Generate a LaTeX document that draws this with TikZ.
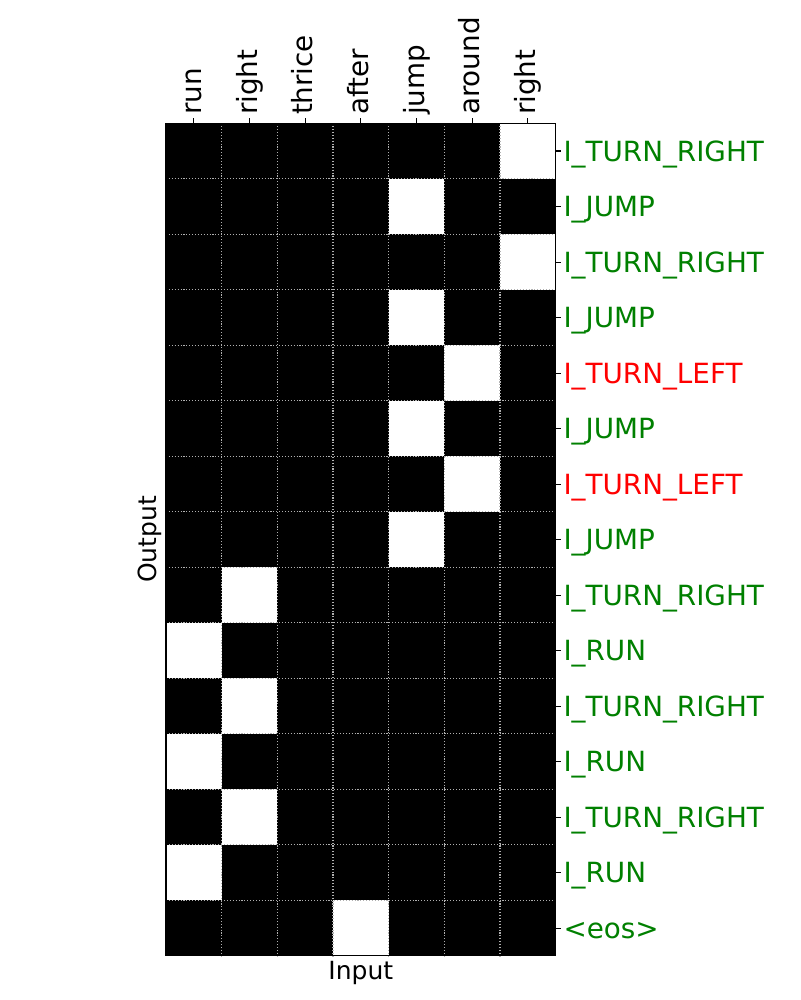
\documentclass[tikz,border=0pt]{standalone}
\usepackage{fontspec}
\setmainfont{DejaVu Sans}
\definecolor{mplgreen}{RGB}{0,128,0}
\definecolor{mplred}{RGB}{255,0,0}
\definecolor{gridgray}{RGB}{176,176,176}
\begin{document}
\begin{tikzpicture}[x=1pt,y=-1pt,
  ticklab/.style={font=\fontsize{27.8}{32}\selectfont, inner sep=0pt, outer sep=0pt},
  ylab/.style={ticklab, anchor=base west},
  xlab/.style={ticklab, rotate=90, anchor=base west},
  axlab/.style={font=\fontsize{25}{30}\selectfont, inner sep=0pt, outer sep=0pt},
  gridln/.style={draw=gridgray, line width=1.1pt, dash pattern=on 1.1pt off 1.8pt},
  frameln/.style={draw=black, line width=1.1pt},
  tickln/.style={draw=black, line width=1.1pt},
  ok/.style={text=mplgreen}, bad/.style={text=mplred}]
\useasboundingbox (0,0) rectangle (800,1000);
\fill[white] (0,0) rectangle (800,1000);
\def\Lx{166}\def\Ty{123.3}\def\cw{55.67}\def\ch{55.5}
% heat map cells
\fill[black] (\Lx,\Ty) rectangle ++({7*\cw},{15*\ch});
\foreach \r/\c in {0/6,1/4,2/6,3/4,4/5,5/4,6/5,7/4,8/1,9/0,10/1,11/0,12/1,13/0,14/3}
  \fill[white] ({\Lx+\c*\cw},{\Ty+\r*\ch}) rectangle ++(\cw,\ch);
% grid
\foreach \i in {1,...,6}
  \draw[gridln] ({\Lx+\i*\cw},\Ty) -- ++(0,{15*\ch});
\foreach \j in {1,...,14}
  \draw[gridln] (\Lx,{\Ty+\j*\ch}) -- ++({7*\cw},0);
% frame
\draw[frameln] (\Lx,\Ty) rectangle ++({7*\cw},{15*\ch});
% top ticks and labels
\foreach \i/\t in {0/run,1/right,2/thrice,3/after,4/jump,5/around,6/right}{
  \draw[tickln] ({\Lx+(\i+0.5)*\cw},\Ty) -- ++(0,-4.9);
  \node[xlab] (xl\i) at ({\Lx+(\i+0.5)*\cw+7.5},115) {\t};
}
% right ticks and labels
\foreach \j/\t/\s in {0/I\_TURN\_RIGHT/ok,1/I\_JUMP/ok,2/I\_TURN\_RIGHT/ok,3/I\_JUMP/ok,
  4/I\_TURN\_LEFT/bad,5/I\_JUMP/ok,6/I\_TURN\_LEFT/bad,7/I\_JUMP/ok,
  8/I\_TURN\_RIGHT/ok,9/I\_RUN/ok,10/I\_TURN\_RIGHT/ok,11/I\_RUN/ok,
  12/I\_TURN\_RIGHT/ok,13/I\_RUN/ok,14/<eos>/ok}{
  \draw[tickln] ({\Lx+7*\cw},{\Ty+(\j+0.5)*\ch}) -- ++(4.9,0);
  \node[ylab,\s] (yl\j) at (563.5,{\Ty+(\j+0.5)*\ch+10.4}) {\t};
}
% axis labels
\node[axlab, anchor=base] (inp) at (360.8,979.5) {Input};
\node[axlab, rotate=90, anchor=base] (outp) at (156,539.5) {Output};
\end{tikzpicture}
\end{document}
